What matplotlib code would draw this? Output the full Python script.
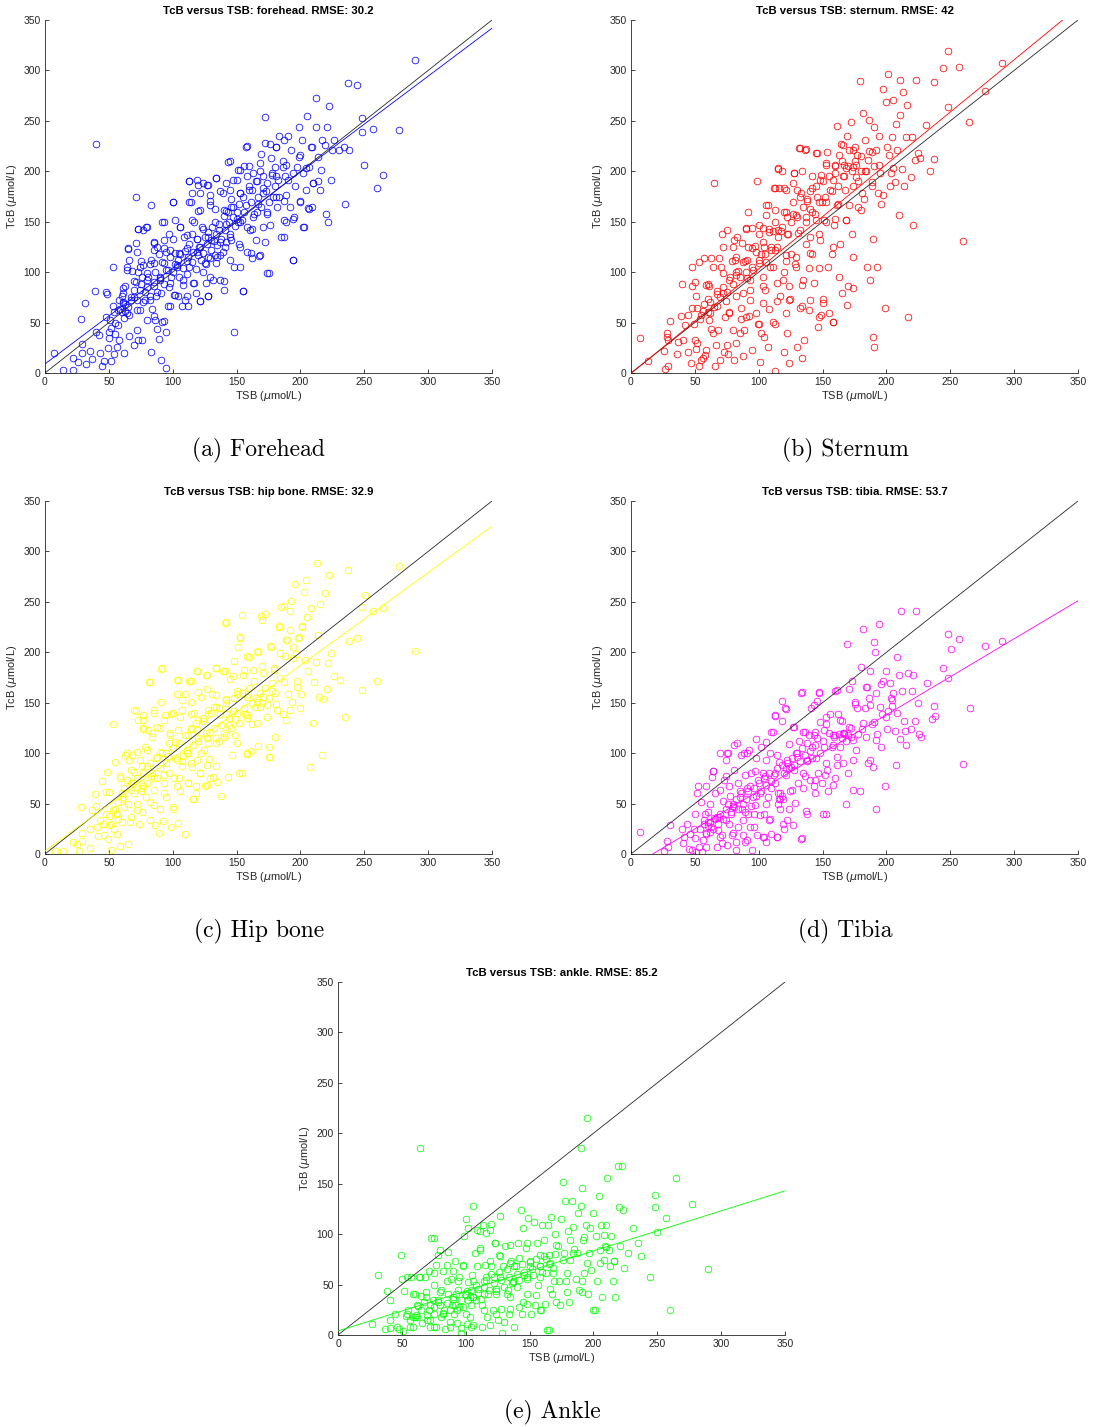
import numpy as np
import matplotlib
matplotlib.use("Agg")
import matplotlib.pyplot as plt

# ---------------- data (TSB, TcB) ----------------
forehead = [(7,20),(14,3),(22,3),(22,15),(26,11),(28,54),(29,29),(29,20),(31,69),(32,9),(35,22),(37,14),
 (39,81),(40,227),(40,41),(42,38),(43,20),(45,7),(46,12),(48,56),(48,80),(48.5,78),(49,25),(50,35),(50.5,41),
 (51,53),(52,12),(53,105),(53,66),(54,19),(55,39),(56,26),(57,48),(58,33),(59,63),(60,76),(61,79),(61,84),
 (62,20),(63,61),(64,102),(65,123),(66,37),(66,112),(67,72),(68,101),(70,82),(70,28),(71,129),(71,175),(72,43),
 (72.5,143),(73,33),(74,105),(74,82),(75.5,111),(76,33),(77,142),(78,72),(79,145),(80,99),(80,53),(82,108),
 (83,167),(83,21),(84,63),(85,129),(85,86),(86,53),(87,76),(88,125),(88,44),(89,34),(90,92),(91,13),(92,150),
 (92,51),(93.5,109),(95,5),(95,41),(96,66),(97,138),(98,122),(99,95),(100,170),(101,77),(102,152),(103,105),
 (104,76),(105,119),(106,145),(107,66),(108,87),(109,135),(110,72),(111,111),(112,66),(113,190),(114,170),
 (115,138),(116,89),(117,150),(118,79),(119,191),(119.5,161),(120.5,125),(121.5,71),(123,145),(124,188),
 (125,109),(126,89),(127,186),(128,76),(129,171),(130,132),(131.5,92),(133,163),(134,193),(135,115),(136,142),
 (137,92),(139,178),(140,82),(141,125),(142,161),(143,209),(144.5,135),(146,173),(147,191),(148,41),(148,105),
 (150,153),(151,201),(152,128),(153,178),(154,152),(155,81),(156,205),(157.5,224),(158,120),(159.5,181),
 (160.5,142),(162,114),(163,198),(164,158),(165,132),(167,168),(167.5,116),(168.5,200),(169.5,217),(170.5,183),
 (172,254),(172.5,130),(174,158),(175,99),(176,227),(176.5,147),(177.5,198),(178.5,175),(180,204),(180.5,224),
 (181.5,165),(182.5,191),(183.5,235),(185,135),(186,204),(187,171),(187.5,231),(189,150),(190,191),(190.5,235),
 (191.5,165),(192.5,221),(194,112),(195,155),(196,185),(197,204),(198.7,244),(199,214),(200,171),(201,231),
 (202,198),(203,145),(204,181),(205,255),(206,164),(207,204),(208,224),(209,165),(210,188),(212,273),(212,244),
 (213.5,190),(214,214),(215,181),(216,201),(217,231),(219,226),(220,158),(221,244),(221.5,150),(222.5,265),
 (224,191),(225,221),(226.5,231),(230.5,221),(234,224),(235,168),(237,288),(238,221),(244,286),(248,253),
 (248,239),(250,206),(256.5,242),(260,183),(265,196),(277,241),(290,310),
 (100,100),(102,108),(104,112),(105,95),(106,118),(108,104),(110,121),(111,98),(112,115),(113,128),(115,110),
 (116,120),(118,103),(119,133),(120,117),(121,125),(122,112),(124,119),(125,135),(126,108),(127,128),(128,140),
 (129,114),(130,122),(131,145),(132,131),(133,117),(134,138),(135,127),(136,148),(138,133),(139,120),(140,156),
 (141,142),(142,130),(143,160),(144,150),(145,138),(146,165),(147,155),(149,146),(150,160),(152,168),(153,150),
 (155,175),(156,160),(158,145),(160,185),(161,170),(163,155),(165,190),(167,175),(169,165),(171,195),(173,180),
 (175,170),(178,196),(180,185),(183,175),(186,210),(188,195),(90,95),(92,110),(93,88),(95,120),(96,102),(97,85),
 (98,115),(85,90),(86,100),(88,80),(89,118),(80,85),(81,95),(82,72),(83,112),(75,88),(76,95),(77,70),(78,80),
 (70,75),(71,90),(72,62),(73,100),(65,65),(66,58),(67,75),(60,60),(61,70),(62,55),(63,68),(57,62),(58,72),
 (55,50),(54,60),(52,45)]
forehead_core = [(158,225),(172,228),(181,224),(200,216),(209,224),(145,210),(153,201),(160,205),(168,208),
 (177,213),(189,206),(194,198),(204,203),(210,188),(113,190),(120,186),(128,186),(134,193),(142,188),(150,191),
 (158,195),(166,190),(174,188),(181,195),(115,178),(121,178),(129,176),(137,180),(145,181),(153,178),(162,181),
 (171,178),(181,175),(189,176),(200,170),(207,163),(100,170),(113,170),(121,162),(129,167),(140,162),(147,165),
 (157,167),(166,160),(174,160),(187,152),(194,153),(202,145),(93,150),(106,145),(115,152),(124,143),(133,150),
 (142,148),(151,150),(162,143),(171,145),(187,135),(73,143),(80,145),(85,130),(93,132),(100,133),(111,137),
 (119,133),(128,135),(137,130),(146,132),(153,125),(161,119),(168,117),(65,124),(72,120),(85,122),(93,124),
 (102,119),(111,124),(119,120),(128,115),(137,117),(145,112),(153,105),(174,99),(194,112),(64,105),(77,107),
 (85,109),(95,102),(103,107),(113,105),(124,100),(134,109),(129,95),(140,91),(155,81),(63,86),(70,91),(80,92),
 (90,94),(98,89),(108,92),(117,89),(61,69),(72,72),(82,76),(91,79),(102,77),(111,76),(121,71),(128,76),(64,59),
 (74,62),(85,57),(93,52),(98,66)]

sternum = [(7,35),(13,12),(26,22),(27,4),(28,40),(28,36),(29,7),(29,33),(30.5,52),(36,19),(37,31),(39,57),
 (40,88),(41,33),(42,48),(45,58),(45,21),(47,10),(47.5,64),(48,105),(48,86),(49,49),(50,33),(51,24),(50.5,90),
 (51,76),(51.5,64),(52,30),(53,110),(53.5,7),(54,54),(55,13),(56,61),(56.5,15),(57,114),(58,18),(58.5,87),
 (59,23),(60,73),(60.5,88),(61,53),(62,59),(62.5,44),(63,114),(64.5,40),(65,188),(66,7),(66.5,28),(67.5,81),
 (68.5,43),(69.5,13),(70.5,105),(71,138),(72,125),(72.5,21),(73.5,56),(74,71),(75,28),(75.5,142),(76,19),
 (77,60),(77.5,95),(79,111),(79.5,125),(80,43),(81,13),(81.5,112),(82.5,30),(83,135),(84,101),(85,40),(86,64),
 (86.5,54),(87.5,17),(88,79),(88.5,43),(89,111),(90,144),(90.5,94),(91.5,160),(92,125),(92.5,57),(93.5,82),
 (94.5,144),(95,23),(95.5,102),(97,126),(97.5,59),(99,190),(99.5,49),(100,138),(101,11),(101.5,40),(102,118),
 (103,95),(103.5,144),(104.5,36),(105,82),(105.5,157),(106,110),(107,26),(107.5,167),(108,63),(109,105),
 (110,122),(111,141),(112,183),(112.5,2),(113,49),(114,125),(115,202),(116,183),(116.5,76),(117.5,141),
 (118,200),(119,92),(119.5,21),(120,183),(121,111),(122,40),(122.5,155),(123.5,10),(124.5,73),(125.5,118),
 (126.5,188),(127,158),(128,198),(128.5,108),(130,26),(131,139),(131.5,223),(132.5,64),(133,178),(134,15),
 (135,92),(135.5,33),(136.5,221),(137,128),(138,173),(139,62),(139.5,104),(140.5,163),(141.5,118),(142,183),
 (143,89),(144,158),(145,218),(146.5,46),(147,138),(148,191),(149,58),(149.5,170),(150.5,73),(151.5,152),
 (152.5,206),(153.5,219),(154.5,105),(155,59),(156,181),(157,118),(158,51),(159,147),(160,198),(161,245),
 (161.5,167),(162.5,216),(163.5,128),(164.5,227),(165.5,79),(166.5,206),(167.5,181),(168,152),(169,67),
 (169.5,235),(170,86),(171,221),(172,249),(173,138),(173.5,204),(174,115),(175,224),(176,194),(177,216),
 (178,165),(179.5,290),(180,200),(181.5,258),(182.5,173),(183.5,231),(184.5,105),(185.5,211),(186.5,251),
 (187.5,92),(188.5,189),(189.5,36),(189.5,133),(190.5,26),(190.5,244),(191.5,221),(192.5,105),(193.5,178),
 (194,235),(195,198),(196,168),(197.5,282),(198.5,64),(199.5,269),(200.5,224),(201,296),(202.5,185),(203.5,198),
 (204.5,234),(205.5,271),(206.5,189),(207.5,247),(208.5,221),(209.5,157),(210.5,256),(211,291),(212,202),
 (213,279),(214,185),(215,234),(216,266),(216.5,56),(219,194),(220,234),(221,147),(222,211),(223.5,291),
 (224.5,218),(226,213),(231,246),(234,200),(237,289),(237.5,212),(244,302),(248,319),(248,264),(257,303),
 (260,131),(264.5,249),(277,280),(290.5,307),
 (95,105),(98,120),(100,112),(103,130),(105,118),(108,140),(110,125),(113,150),(115,135),(118,145),(120,160),
 (122,138),(125,150),(127,170),(130,155),(132,175),(135,165),(137,150),(140,180),(142,160),(145,185),(147,170),
 (150,190),(152,175),(155,195),(157,180),(160,205),(162,185),(165,210),(167,195),(170,205),(173,200),(175,210),
 (178,190),(180,215),(183,200),(186,220),(190,205),(85,95),(88,110),(90,100),(80,88),(82,100),(75,80),(77,92),
 (70,75),(72,85),(65,65),(67,78),(60,60),(62,70),(55,58),(57,68)]
sternum_core = [(132,223),(137,222),(146,218),(166,226),(174,221),(189,219),(202,216),(153,208),(160,206),
 (168,203),(176,206),(184,200),(194,206),(205,203),(115,203),(128,198),(134,200),(142,195),(149,196),(158,191),
 (166,195),(174,185),(181,178),(189,185),(197,176),(113,183),(121,181),(130,181),(138,171),(146,175),(153,170),
 (162,168),(171,167),(180,162),(106,167),(113,162),(121,160),(129,157),(137,155),(145,152),(153,150),(160,153),
 (168,152),(90,143),(100,147),(108,143),(115,142),(123,138),(132,142),(140,135),(148,132),(81,132),(87,129),
 (95,124),(104,125),(113,122),(121,117),(129,115),(140,119),(69,114),(82,115),(91,112),(100,109),(111,105),
 (120,100),(129,105),(64,105),(72,99),(82,97),(93,92),(103,86),(114,89),(124,86),(134,87),(61,86),(72,79),
 (82,76),(93,72),(103,69),(114,71),(124,72),(134,66),(147,56),(158,51),(67,66),(77,59),(90,56),(100,49),
 (111,51),(121,59),(140,72),(150,69),(174,84),(163,95),(147,104),(158,125)]

hip_bone = [(8,3),(14,3),(21.6,12),(25,10),(27,3),(28,47),(29,13),(29,21),(35,6),(35.5,25),(37,44),(39,59),
 (40,48),(41,27),(41.5,18),(43,34),(45,72),(45.5,30),(46.5,19),(47.5,61),(48,40),(48.5,81),(49.5,15),(50,61),
 (50.5,29),(52,4),(53,129),(53.5,44),(54,25),(55,91),(55.5,40),(56.5,20),(57.5,52),(58.5,8),(59,75),(60,32),
 (60.5,60),(61.5,47),(62.5,98),(64,73),(65,10),(65.5,93),(66.5,32),(67.5,63),(68.5,98),(70,81),(71,142),(72,44),
 (72.5,133),(73.5,30),(74.5,93),(75.5,62),(76.5,124),(77,138),(78,106),(79,57),(79.5,87),(81,123),(81.5,171),
 (82,34),(83,77),(84,116),(85,140),(85.5,49),(86.5,29),(87.5,126),(88,75),(89,21),(90,101),(91,151),(91.5,184),
 (92.5,33),(93.5,70),(94,138),(95,57),(96,97),(97,80),(98,120),(99,27),(100,140),(101,45),(102,111),(103,159),
 (103.5,173),(104,31),(105,75),(106,62),(107,143),(108,97),(109.5,159),(110,20),(111,100),(112,70),(113,172),
 (114.5,124),(115,86),(116,55),(117,140),(118,67),(119,181),(120,112),(121,80),(122.5,156),(123.5,132),
 (124.5,103),(125.5,67),(126,177),(127.5,139),(128.5,94),(129.5,121),(130.5,159),(131.5,76),(132.5,146),
 (134,184),(135,71),(136,112),(137,139),(138,58),(139,181),(140,116),(141,229),(142,154),(143,76),(144,128),
 (145,174),(146.5,98),(147.5,142),(148,191),(149,118),(150.5,162),(151.5,205),(152,80),(153,215),(154,237),
 (154.5,80),(155.5,182),(156.5,139),(158,99),(159,159),(160,195),(161,102),(162,129),(163.5,172),(164.5,146),
 (166,200),(167,107),(168,146),(169,236),(170,186),(171,156),(172.5,238),(173.5,136),(175,96),(175.5,106),
 (177,205),(178,162),(179,184),(180,116),(182,143),(183,226),(184,175),(185,245),(186.5,139),(187,246),
 (188,196),(188.5,133),(189.5,212),(190.5,159),(191.5,241),(192.5,251),(193.5,151),(194.5,205),(195.5,268),
 (196.5,198),(197.5,172),(198.5,215),(199.5,145),(200.5,159),(201.5,226),(202.5,260),(203.5,192),(204.5,272),
 (205,235),(206,181),(207.5,86),(208.5,244),(209.5,130),(210.5,171),(212,190),(213,289),(214,217),(214.5,156),
 (215.5,248),(216.5,98),(217.5,154),(219.5,259),(220.5,164),(221.5,189),(222.5,277),(224,199),(226.5,176),
 (231,173),(235,136),(237,282),(238,211),(244,214),(248,163),(248,245),(250.5,257),(257,241),(260,172),
 (265,244),(277,286),(290,201),
 (100,105),(102,95),(105,110),(107,92),(110,118),(112,100),(114,125),(116,108),(118,130),(120,115),(122,100),
 (124,135),(126,120),(128,110),(130,140),(132,125),(134,115),(136,145),(138,128),(140,120),(142,150),(144,135),
 (146,125),(148,155),(150,140),(152,130),(154,160),(156,145),(158,135),(160,165),(162,150),(165,155),(168,160),
 (170,150),(172,165),(175,155),(178,170),(180,160),(60,55),(62,65),(65,50),(67,70),(70,60),(72,75),(75,65),
 (77,80),(80,70),(82,90),(85,75),(87,95),(90,85),(92,100),(95,90),(97,110),(55,45),(57,35),(50,38),(52,30)]
hip_bone_core = [(142,230),(170,232),(183,225),(192,222),(201,225),(153,214),(189,212),(198,214),(158,196),
 (167,201),(176,206),(184,199),(194,194),(91,183),(82,171),(104,173),(114,172),(119,181),(127,177),(134,184),
 (141,181),(147,176),(155,177),(163,182),(171,179),(179,182),(187,171),(197,166),(107,153),(114,151),(120,161),
 (127,164),(134,158),(142,153),(150,159),(158,156),(166,151),(174,148),(181,149),(192,143),(70,143),(77,133),
 (85,143),(93,133),(99,139),(106,136),(114,139),(120,133),(128,143),(134,146),(142,139),(149,134),(158,138),
 (166,130),(77,125),(84,120),(90,125),(98,118),(104,123),(112,118),(119,123),(127,115),(134,110),(142,118),
 (150,110),(158,100),(176,96),(64,100),(72,101),(80,103),(88,96),(95,100),(103,93),(111,103),(119,93),(127,88),
 (134,87),(67,83),(76,87),(84,80),(93,78),(101,75),(107,87),(114,90),(121,80),(129,75),(59,77),(69,70),(77,67),
 (85,63),(93,60),(103,67),(112,70),(118,60),(127,68),(61,57),(72,50),(82,52),(90,45),(100,47),(116,55),(56,40),
 (67,37),(76,42)]

tibia = [(7,22),(28,13),(29,7),(30.5,29),(26,3),(40,25),(41,11),(41.5,17),(44,30),(45.5,5),(46.5,20),(47.5,4),
 (49,25),(50,40),(50.5,16),(51,2),(51.5,60),(52.5,67),(53,7),(54,25),(55,52),(55.5,2),(56.5,14),(57,30),(58,40),
 (58.5,20),(59,7),(60,32),(60.5,42),(62,22),(63,27),(63.5,76),(64.5,82),(65,36),(66,60),(67,7),(68,24),(69,37),
 (70,100),(71,11),(71.5,19),(73,73),(74,34),(74.5,93),(75.5,9),(76,100),(77.5,58),(78.5,40),(79,19),(80,50),
 (81,108),(82,4),(82.5,12),(83.5,70),(84,27),(85,57),(86,98),(87,45),(88,19),(88.5,100),(89,12),(90.5,65),
 (91.5,40),(92.5,103),(93,27),(94,80),(95,4),(95.5,57),(96.5,40),(98,114),(99,19),(99.5,73),(101,39),(102,106),
 (103,17),(103.5,80),(104.5,40),(105.5,111),(106,12),(107,57),(108,34),(109,100),(110,20),(111,121),(112.5,70),
 (113,137),(114,17),(115,60),(116,91),(117,45),(118,152),(118.5,132),(119.5,25),(120.5,145),(121,78),(122,34),
 (123.5,109),(124.5,62),(125.5,86),(126.5,29),(127.5,126),(128.5,51),(129.5,100),(130.5,70),(131.5,112),(133,15),
 (133.5,160),(135,80),(136,121),(137,43),(138,93),(139,118),(140,73),(141,145),(142,106),(143,67),(144,121),
 (145.5,152),(146.5,80),(147,160),(148,131),(149.5,70),(150.5,40),(151.5,106),(152.5,129),(153.5,83),(154.5,62),
 (155.5,139),(157,106),(158,68),(159,116),(160,162),(161,88),(162,139),(163,119),(164,106),(165,132),(166,90),
 (167,119),(168,50),(169,208),(170,80),(171,164),(172,116),(173,172),(174,63),(175,151),(176,103),(177,145),
 (178,119),(179,62),(180,185),(181,124),(182,223),(183,145),(184.5,166),(185.5,90),(186.5,155),(187.5,181),
 (188.5,129),(189.5,86),(190.5,210),(191,200),(191.5,45),(192,160),(193,119),(194.5,228),(195.5,106),(196.5,139),
 (197.5,172),(198.5,67),(199.5,181),(200.5,124),(201.5,142),(202.5,170),(203.5,155),(204.5,147),(205.5,160),
 (206.5,122),(207.5,88),(208.5,195),(209.5,177),(210.5,114),(211.5,241),(212.5,162),(213.5,132),(214.5,122),
 (215.5,108),(216.5,179),(219,124),(220,162),(221,177),(222,132),(223,241),(224.5,150),(225.5,119),(227,116),
 (231.5,170),(235.5,134),(237,147),(238,137),(244.5,184),(248,218),(248,175),(250.5,203),(257,213),(260,89),
 (265.5,145),(277,206),(290.5,211),
 (80,48),(82,55),(84,45),(86,60),(88,50),(90,55),(92,62),(94,48),(96,65),(98,58),(100,70),(102,62),(104,75),
 (106,68),(108,80),(110,72),(112,78),(114,85),(116,55),(118,88),(120,80),(122,90),(124,85),(126,95),(128,88),
 (130,100),(132,92),(134,105),(136,98),(138,110),(140,102),(142,95),(144,108),(146,115),(148,100),(150,112),
 (155,120),(158,108),(160,118),(165,115),(167,120),(168,112),(170,118),(172,125),(117,60),(115,50),(119,55),
 (60,28),(62,32),(64,25),(66,35),(68,30),(70,40),(72,35),(74,45),(76,50),(78,42)]
tibia_core = [(134,161),(147,161),(161,163),(184,166),(196,169),(175,149),(187,148),(195,146),(204,153),
 (113,138),(121,144),(143,148),(153,136),(164,133),(171,126),(182,130),(190,131),(200,136),(208,140),(110,121),
 (127,126),(135,121),(143,118),(151,123),(158,118),(166,120),(174,113),(184,116),(192,113),(75,100),(83,110),
 (91,100),(98,95),(106,93),(114,98),(122,93),(130,96),(138,92),(145,95),(153,90),(161,96),(174,93),(187,93),
 (64,82),(74,77),(81,83),(89,78),(97,82),(105,77),(113,80),(121,85),(128,83),(136,77),(144,73),(152,78),(160,75),
 (59,67),(70,63),(77,67),(85,62),(93,67),(101,60),(110,65),(118,58),(126,63),(135,65),(144,60),(62,50),(72,53),
 (81,47),(89,42),(97,49),(106,50),(117,55),(124,45),(138,40),(153,40),(57,34),(67,37),(77,30),(88,34),(96,27),
 (109,35),(119,30),(59,21),(70,17),(80,21),(91,14),(104,17),(114,17),(134,16)]

ankle = [(27,11),(31,59),(37,6),(38,44),(40.5,35),(40.5,7),(41,15),(44.5,21),(46,8),(48,6),(49,79),(50,56),(51,4),
 (52,44),(53.5,19),(55,25),(56,15),(57,58),(58.5,18),(59,8),(60,41),(61,20),(62.5,29),(63.5,58),(64,185),(65,39),
 (66,12),(67,33),(68,58),(69,43),(70,15),(71,63),(71,25),(72,8),(73,96),(74,35),(75,50),(75.5,21),(76.5,69),
 (77,8),(78,79),(78.5,33),(79.5,84),(80.5,18),(81,45),(82,63),(83,25),(84,6),(85,69),(86,41),(86.5,82),(87.5,13),
 (88.5,56),(89,30),(90,63),(91,21),(91.5,73),(92.5,41),(93.5,12),(94,54),(95,28),(96,7),(96.5,2),(98,68),
 (98.5,98),(99.5,41),(100,21),(100.5,115),(101.5,53),(102,106),(103,38),(104,8),(104.5,30),(105,59),(106,128),
 (106,10),(107,81),(108,35),(109,104),(110,46),(111,103),(111.5,84),(112.5,8),(113,30),(113.5,109),(114,54),
 (115,69),(116,101),(117,18),(117.5,41),(119,104),(119.5,68),(120,110),(121,25),(122,58),(123,91),(124,41),
 (125,15),(126,79),(127,118),(128,26),(128.5,2),(129,68),(130,13),(131,88),(132,41),(133,45),(134,21),(135.5,73),
 (137,53),(138,8),(139,68),(140,48),(141,91),(142,28),(143.5,124),(144,21),(145,106),(146,59),(147,86),(148,41),
 (149,116),(150.5,68),(151.5,21),(152.5,59),(153.5,112),(154.5,30),(155.5,91),(156.5,50),(158,68),(159,25),
 (160,109),(161,78),(162,31),(163,61),(164,5),(164.5,109),(165.5,79),(166.5,117),(167.5,41),(168.5,61),(170,100),
 (171,33),(172,88),(173,54),(174,30),(174.5,115),(176,152),(177,81),(178,133),(178.5,54),(180,103),(181,33),
 (182,74),(183,133),(184,107),(185,85),(186,56),(187,81),(188,121),(189,45),(190,128),(190.5,185),(191,146),
 (192,94),(193,61),(194,109),(195,215),(195.5,41),(196.5,81),(197.5,106),(198,64),(200,121),(201,25),(202,98),
 (203,54),(204,138),(205,84),(206,109),(207,38),(208,74),(209,88),(210,109),(211,156),(212,84),(213,68),(214,98),
 (215,54),(216,73),(217,38),(219,168),(220,127),(221,88),(222,168),(223,124),(224,66),(227,81),(231,106),(235,91),
 (237,78),(244,58),(248,139),(248,127),(250,102),(257,116),(260,25),(264.5,156),(277,130),(290,65),
 (100,40),(102,35),(104,45),(106,38),(108,50),(110,42),(112,36),(114,48),(116,55),(118,45),(120,60),(122,52),
 (124,46),(126,62),(128,55),(130,48),(132,65),(134,58),(136,52),(138,68),(140,60),(142,55),(144,70),(146,62),
 (148,58),(150,72),(152,65),(155,75),(158,68),(160,62),(163,75),(165,70),(168,66),(170,80),(90,38),(92,30),
 (94,45),(96,35),(98,28),(85,32),(88,25),(80,30),(82,22),(75,28),(78,35),(70,20),(72,30),(65,25),(60,18),(62,30)]
ankle_core = [(75,96),(111,86),(123,91),(135,89),(148,91),(161,94),(171,89),(182,94),(193,97),(208,99),(210,87),
 (216,73),(98,69),(109,68),(119,73),(127,78),(135,71),(142,76),(150,73),(158,79),(166,71),(176,74),(184,81),
 (195,71),(205,71),(54,58),(64,58),(75,61),(85,54),(95,58),(106,54),(116,58),(127,58),(137,54),(148,56),(158,58),
 (169,54),(179,61),(191,54),(59,41),(69,38),(80,43),(90,36),(101,44),(106,38),(114,41),(124,44),(135,38),(145,33),
 (155,40),(166,46),(179,43),(191,43),(54,21),(62,18),(72,15),(82,21),(93,25),(103,18),(114,25),(124,21),(135,26),
 (148,31),(158,25),(200,25),(56,8),(75,8),(88,8),(101,11),(119,10),(165,5)]

sites = ["forehead", "sternum", "hip bone", "tibia", "ankle"]
rmse = ["30.2", "42", "32.9", "53.7", "85.2"]
captions = ["(a) Forehead", "(b) Sternum", "(c) Hip bone", "(d) Tibia", "(e) Ankle"]
colors = ["#0000ff", "#ff0000", "#ffff00", "#ff00ff", "#00ff00"]
fit_intercept = [9.0, -0.5, 3.0, -12.8, 4.0]
fit_slope = [0.951, 1.037, 0.92, 0.754, 0.397]
ticks = [0, 50, 100, 150, 200, 250, 300, 350]
datasets = [forehead + forehead_core, sternum + sternum_core, hip_bone + hip_bone_core,
            tibia + tibia_core, ankle + ankle_core]

# ---------------- layout ----------------
W, H = 1094, 1427
fig = plt.figure(figsize=(W / 100, H / 100), dpi=100)
plt.rcParams["font.family"] = ["Liberation Sans", "DejaVu Sans"]
plt.rcParams["mathtext.fontset"] = "dejavusans"

# axes pixel boxes: (left, top, right, bottom)
boxes = [(45, 20, 492, 373), (631, 20, 1078, 373), (45, 501, 492, 854),
         (631, 501, 1078, 854), (338, 982, 785, 1335)]
cap_pos = [(259, 450), (845, 450), (259, 931), (845, 931), (552, 1412)]

gray = (0.15, 0.15, 0.15)
for i, pts in enumerate(datasets):
    l, t, r, b = boxes[i]
    ax = fig.add_axes([l / W, 1 - b / H, (r - l) / W, (b - t) / H])
    arr = np.array(pts, dtype=float)
    ax.plot(arr[:, 0], arr[:, 1], "o", ms=4.8, mfc="none", mec=colors[i], mew=0.55,
            linestyle="none", zorder=2)
    ax.axline((0, 0), slope=1, color="#262626", lw=0.6, zorder=3)
    ax.axline((0, fit_intercept[i]), slope=fit_slope[i], color=colors[i], lw=0.6, zorder=3)
    ax.set_xlim(0, 350)
    ax.set_ylim(0, 350)
    ax.set_xticks(ticks)
    ax.set_yticks(ticks)
    for s in ["top", "right"]:
        ax.spines[s].set_visible(False)
    for s in ["left", "bottom"]:
        ax.spines[s].set_color(gray)
        ax.spines[s].set_linewidth(0.6)
    ax.tick_params(direction="in", length=3, width=0.6, colors=gray, labelsize=7.4, pad=3)
    ax.set_xlabel(r"TSB ($\mu$mol/L)", fontsize=7.9, color=gray, labelpad=1)
    ax.set_ylabel(r"TcB ($\mu$mol/L)", fontsize=7.9, color=gray, labelpad=3)
    ax.set_title(f"TcB versus TSB: {sites[i]}. RMSE: {rmse[i]}", fontsize=8.2,
                 fontweight="bold", pad=4)
    cx, cy = cap_pos[i]
    fig.text(cx / W, 1 - cy / H, captions[i], ha="center", va="center",
             fontsize=17, family="cmr10")

fig.savefig("out.png", dpi=100)
